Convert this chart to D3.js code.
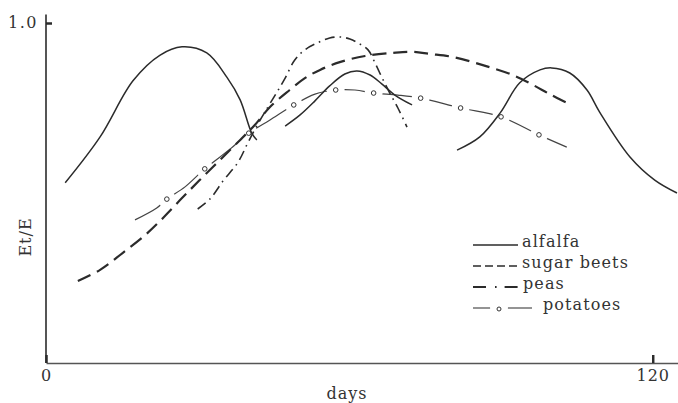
<!DOCTYPE html>
<html>
<head>
<meta charset="utf-8">
<script src="https://d3js.org/d3.v7.min.js"></script>
<style>
  body { margin: 0; background: #fff; }
  svg text { font-family: 'DejaVu Serif', serif; fill: #333; }
</style>
</head>
<body>
<div id="chart"></div>
<script>
// Et/E against days: [day, ratio]
const alfalfaCut1 = [[3.8,0.53],[10.7,0.665],[17.2,0.83],[22.5,0.905],[26.9,0.93],[31.8,0.912],[35.8,0.84],[38.4,0.774],[40.7,0.676],[41.7,0.656]];
const alfalfaCut2 = [[47.3,0.697],[50.2,0.729],[53.2,0.771],[56.1,0.815],[59.1,0.85],[61.5,0.859],[64.1,0.847],[66.4,0.821],[69.0,0.788],[72.4,0.759]];
const alfalfaCut3 = [[81.3,0.626],[85.8,0.665],[89.8,0.735],[93.7,0.824],[97.7,0.862],[100,0.868],[103.6,0.853],[107,0.803],[109.5,0.738],[115.5,0.606],[120.4,0.538],[124.8,0.5]];
const sugarBeets = [[6.3,0.241],[10.7,0.274],[15.2,0.324],[19.6,0.376],[23.1,0.426],[26.9,0.485],[30.4,0.538],[34.4,0.597],[38.4,0.656],[41.3,0.7],[44.3,0.753],[48.2,0.803],[51.2,0.838],[54.2,0.862],[58.1,0.885],[63.1,0.903],[68.6,0.912],[72.6,0.915],[75.9,0.909],[80.5,0.9],[86.4,0.876],[92.3,0.847],[96.3,0.818],[99.6,0.791],[103.0,0.765]];
const peas = [[30.0,0.453],[32.4,0.482],[35.0,0.535],[38.0,0.591],[39.9,0.647],[41.9,0.703],[43.9,0.753],[45.7,0.797],[47.3,0.838],[49.2,0.891],[51.2,0.921],[53.6,0.941],[56.1,0.956],[58.1,0.959],[60.1,0.953],[62.1,0.938],[63.7,0.921],[65.0,0.885],[66.4,0.841],[68.0,0.794],[69.6,0.75],[71.4,0.694]];
const potatoes = [[17.6,0.421],[21.9,0.456],[23.9,0.482],[27.5,0.518],[31.4,0.571],[36.4,0.629],[40.1,0.676],[44.3,0.715],[49.0,0.759],[53.2,0.791],[57.3,0.803],[61.1,0.803],[64.8,0.794],[69.6,0.788],[74.1,0.779],[82.0,0.75],[90.0,0.724],[97.5,0.671],[103.0,0.635]];
// days where the little circles are drawn on the potato curve
const potatoMarkDays = [23.9, 31.4, 40.1, 49.0, 57.3, 64.8, 74.1, 82.0, 90.0, 97.5];
const xTicks = [0, 120];
const yTicks = [1.0];
const legendNames = ["alfalfa", "sugar beets", "peas", "potatoes"];

const W = 678, H = 403;
const ink = "#2b2b2b";

const svg = d3.select("#chart").append("svg")
  .attr("width", W)
  .attr("height", H)
  .style("background", "#fff");

const x = d3.scaleLinear().domain([0, 125]).range([46, 678]);
const y = d3.scaleLinear().domain([0, 1]).range([363, 23]);

// axes
const gy = svg.append("g")
  .attr("transform", `translate(${x(0)},0)`)
  .call(d3.axisLeft(y).tickValues(yTicks).tickFormat(d3.format(".1f"))
    .tickSizeInner(-6).tickSizeOuter(0).tickPadding(8));
gy.select(".domain").remove();
gy.selectAll(".tick line").attr("stroke", ink).attr("stroke-width", 2.5);
gy.selectAll(".tick text").attr("font-size", 16).attr("letter-spacing", 1.5).attr("dy", "0.3em");
svg.append("line")
  .attr("x1", x(0)).attr("x2", x(0))
  .attr("y1", y(0)).attr("y2", y(1.025))
  .attr("stroke", ink).attr("stroke-width", 1.6);

const gx = svg.append("g")
  .attr("transform", `translate(0,${y(0)})`)
  .call(d3.axisBottom(x).tickValues(xTicks).tickSizeInner(-8).tickSizeOuter(0).tickPadding(7));
gx.select(".domain").attr("stroke", "#555").attr("stroke-width", 1.3);
gx.selectAll(".tick line").attr("stroke", ink).attr("stroke-width", 2.5);
gx.selectAll(".tick text").attr("font-size", 16).attr("letter-spacing", 1);

svg.append("text")
  .attr("x", 347).attr("y", 399)
  .attr("text-anchor", "middle")
  .attr("font-size", 16).attr("letter-spacing", 1)
  .text("days");

svg.append("text")
  .attr("transform", "translate(25,237) rotate(-90)")
  .attr("text-anchor", "middle").attr("dy", "0.35em")
  .attr("font-size", 16).attr("letter-spacing", 1)
  .text("Et/E");

const line = d3.line()
  .x(d => x(d[0]))
  .y(d => y(d[1]))
  .curve(d3.curveCatmullRom.alpha(0.5));

// potatoes first so the white gaps round the circles only cut its own line
svg.append("path")
  .datum(potatoes)
  .attr("d", line)
  .attr("fill", "none").attr("stroke", "#444").attr("stroke-width", 1.2);
const marks = potatoes.filter(d => potatoMarkDays.includes(d[0]));
svg.selectAll(".halo").data(marks).enter().append("circle")
  .attr("class", "halo")
  .attr("cx", d => x(d[0])).attr("cy", d => y(d[1]))
  .attr("r", 9).attr("fill", "#fff");
svg.selectAll(".mark").data(marks).enter().append("circle")
  .attr("class", "mark")
  .attr("cx", d => x(d[0])).attr("cy", d => y(d[1]))
  .attr("r", 2.3).attr("fill", "#fff").attr("stroke", "#333").attr("stroke-width", 1);

[alfalfaCut1, alfalfaCut2, alfalfaCut3].forEach(seg => {
  svg.append("path")
    .datum(seg)
    .attr("d", line)
    .attr("fill", "none").attr("stroke", ink).attr("stroke-width", 1.5);
});

svg.append("path")
  .datum(sugarBeets)
  .attr("d", line)
  .attr("fill", "none").attr("stroke", ink).attr("stroke-width", 2.2)
  .attr("stroke-dasharray", "14,7");

svg.append("path")
  .datum(peas)
  .attr("d", line)
  .attr("fill", "none").attr("stroke", ink).attr("stroke-width", 1.6)
  .attr("stroke-dasharray", "10,5,1.6,5");

// legend
const ly = d3.scalePoint().domain(legendNames).range([245, 308]);
const legendStyle = {
  "alfalfa":     { x2: 518, tx: 522, dash: null, w: 1.5 },
  "sugar beets": { x2: 520, tx: 522, dash: "8,4", w: 1.6 },
  "peas":        { x2: 520, tx: 523, dash: "13,9,1.6,8", w: 2 },
  "potatoes":    { x2: 532, tx: 543, dash: null, w: 1.2 }
};
const leg = svg.append("g");
legendNames.forEach(name => {
  const s = legendStyle[name];
  const yy = ly(name);
  leg.append("line")
    .attr("x1", 473).attr("x2", s.x2)
    .attr("y1", yy).attr("y2", yy)
    .attr("stroke", ink).attr("stroke-width", s.w)
    .attr("stroke-dasharray", s.dash);
  if (name === "potatoes") {
    leg.append("circle").attr("cx", 499).attr("cy", yy).attr("r", 9).attr("fill", "#fff");
    leg.append("circle").attr("cx", 499).attr("cy", yy + 1).attr("r", 2)
      .attr("fill", "#fff").attr("stroke", "#333").attr("stroke-width", 1);
  }
  leg.append("text")
    .attr("x", s.tx).attr("y", yy)
    .attr("dy", "0.1em")
    .attr("font-size", 16).attr("letter-spacing", 1.1)
    .text(name);
});
</script>
</body>
</html>
